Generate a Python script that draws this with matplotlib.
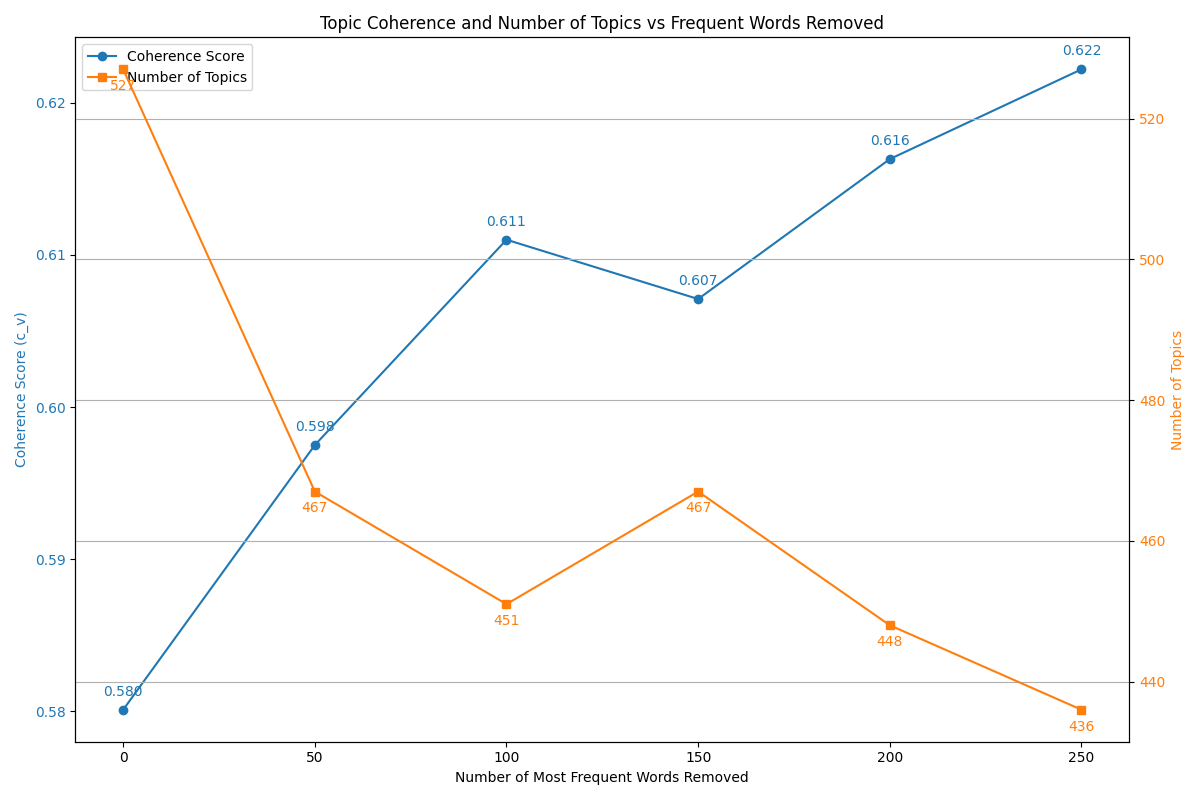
import matplotlib
matplotlib.use('Agg')
import matplotlib.pyplot as plt

words_removed = [0, 50, 100, 150, 200, 250]
coherence = [0.5801, 0.5975, 0.6110, 0.6071, 0.6163, 0.6222]
num_topics = [527, 467, 451, 467, 448, 436]

fig, ax1 = plt.subplots(figsize=(12, 8), dpi=100)
c1, c2 = 'tab:blue', 'tab:orange'

l1, = ax1.plot(words_removed, coherence, marker='o', color=c1, label='Coherence Score')
ax1.set_xlabel('Number of Most Frequent Words Removed')
ax1.set_ylabel('Coherence Score (c_v)', color=c1)
ax1.tick_params(axis='y', labelcolor=c1)
for x, y in zip(words_removed, coherence):
    ax1.annotate(f'{y:.3f}', (x, y), textcoords='offset points', xytext=(0, 10),
                 ha='center', color=c1)

ax2 = ax1.twinx()
l2, = ax2.plot(words_removed, num_topics, marker='s', color=c2, label='Number of Topics')
ax2.set_ylabel('Number of Topics', color=c2)
ax2.tick_params(axis='y', labelcolor=c2)
for x, y in zip(words_removed, num_topics):
    ax2.annotate(f'{y}', (x, y), textcoords='offset points', xytext=(0, -15),
                 ha='center', color=c2)
ax2.grid(True, axis='y')

ax1.legend([l1, l2], [l1.get_label(), l2.get_label()], loc='upper left')
plt.title('Topic Coherence and Number of Topics vs Frequent Words Removed')
fig.tight_layout()
plt.savefig('out.png')
